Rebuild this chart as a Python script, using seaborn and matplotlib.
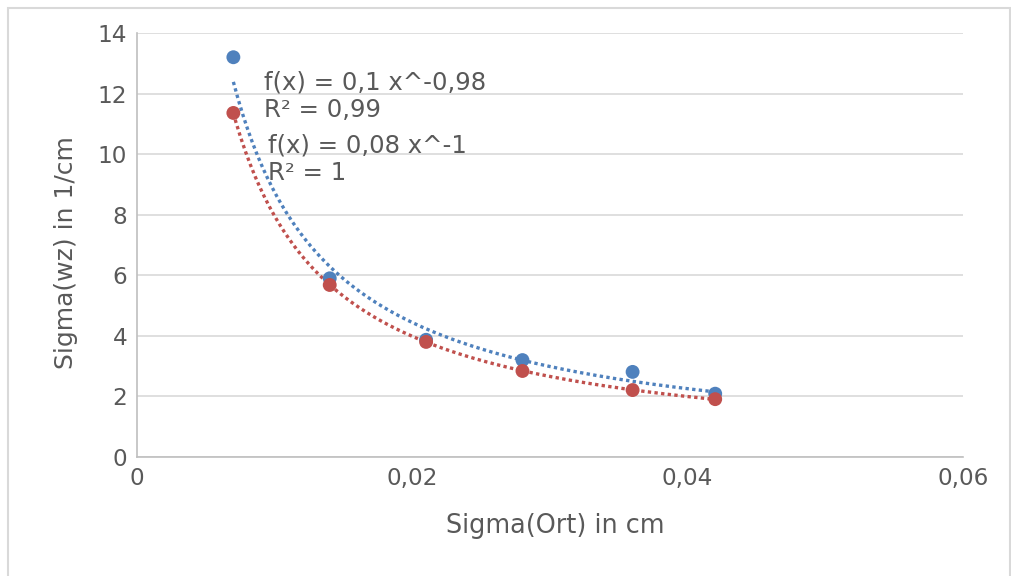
import numpy as np
import pandas as pd
import seaborn as sns
import matplotlib.pyplot as plt
from matplotlib.patches import Rectangle

# Values
sigma_ort = [0.007, 0.014, 0.021, 0.028, 0.036, 0.042]
sigma_wz_blue = [13.2, 5.9, 3.87, 3.2, 2.81, 2.09]
sigma_wz_red = [11.36, 5.68, 3.8, 2.84, 2.21, 1.91]

x_ticks = [0, 0.02, 0.04, 0.06]
x_tick_labels = ['0', '0,02', '0,04', '0,06']
y_ticks = [0, 2, 4, 6, 8, 10, 12, 14]

blue = '#4f81bd'
red = '#c0504d'
text_col = '#595959'

sns.set_style('white')
plt.rcParams['font.family'] = ['DejaVu Sans']

fig = plt.figure(figsize=(10.11, 5.76), dpi=100)
ax = fig.add_axes([137 / 1011, 1 - 457 / 576, (963 - 137) / 1011, (457 - 33) / 576])

# Power-law trend lines (fit in log-log space)
xs = np.linspace(sigma_ort[0], sigma_ort[-1], 200)
for ys, col in [(sigma_wz_blue, blue), (sigma_wz_red, red)]:
    b, lna = np.polyfit(np.log(sigma_ort), np.log(ys), 1)
    trend = pd.DataFrame({'x': xs, 'y': np.exp(lna) * xs ** b})
    sns.lineplot(data=trend, x='x', y='y', ax=ax, color=col, linewidth=2.4,
                 linestyle=(0, (1, 1)), dash_capstyle='butt', zorder=3)

df = pd.DataFrame({'x': sigma_ort * 2,
                   'y': sigma_wz_blue + sigma_wz_red,
                   'serie': ['blau'] * 6 + ['rot'] * 6})
sns.scatterplot(data=df, x='x', y='y', hue='serie', palette=[blue, red],
                s=100, edgecolor='none', ax=ax, legend=False, zorder=4)

ax.set_xlim(0, 0.06)
ax.set_ylim(0, 14)
ax.set_xticks(x_ticks)
ax.set_xticklabels(x_tick_labels)
ax.set_yticks(y_ticks)
ax.yaxis.grid(True, color='#d9d9d9', linewidth=1.2)
ax.xaxis.grid(False)
ax.set_axisbelow(True)
for s in ['top', 'right']:
    ax.spines[s].set_visible(False)
for s in ['left', 'bottom']:
    ax.spines[s].set_color('#bfbfbf')
    ax.spines[s].set_linewidth(1.2)
ax.tick_params(axis='both', length=0, labelsize=16.7, colors=text_col)
ax.tick_params(axis='y', pad=7)
ax.tick_params(axis='x', pad=7)

ax.set_xlabel('Sigma(Ort) in cm', fontsize=18.4, color=text_col)
ax.set_ylabel('Sigma(wz) in 1/cm', fontsize=18, color=text_col)
ax.xaxis.set_label_coords(0.506, -0.131)
ax.yaxis.set_label_coords(-0.0714, 0.483)

# Trend line equations
fs = 17.6
ax.text(0.0092, 12.38, 'f(x) = 0,1 x^-0,98', fontsize=fs, color=text_col, va='center')
ax.text(0.0092, 11.46, 'R² = 0,99', fontsize=fs, color=text_col, va='center')
ax.text(0.0095, 10.27, 'f(x) = 0,08 x^-1', fontsize=fs, color=text_col, va='center')
ax.text(0.0095, 9.38, 'R² = 1', fontsize=fs, color=text_col, va='center')

fig.patches.append(Rectangle((8 / 1011, -0.02), (1010 - 8) / 1011, 1.02 - 8 / 576,
                             transform=fig.transFigure, fill=False,
                             edgecolor='#d9d9d9', linewidth=1.5))

fig.savefig('out.png', dpi=100)
